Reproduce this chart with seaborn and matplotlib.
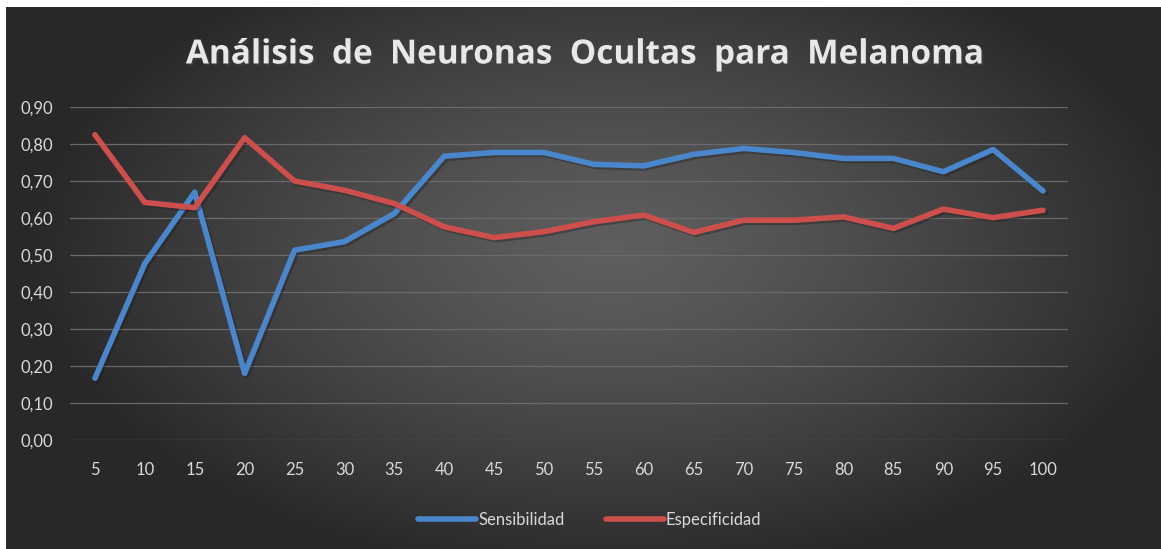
import numpy as np
import pandas as pd
import matplotlib.pyplot as plt
import matplotlib.patheffects as pe
import seaborn as sns

# Data
neuronas = [5, 10, 15, 20, 25, 30, 35, 40, 45, 50,
            55, 60, 65, 70, 75, 80, 85, 90, 95, 100]
sensibilidad = [0.167, 0.477, 0.670, 0.180, 0.513, 0.536, 0.612, 0.767, 0.777, 0.777,
                0.745, 0.741, 0.772, 0.788, 0.777, 0.761, 0.761, 0.725, 0.785, 0.673]
especificidad = [0.825, 0.642, 0.628, 0.817, 0.700, 0.675, 0.639, 0.576, 0.547, 0.563,
                 0.590, 0.608, 0.561, 0.594, 0.594, 0.603, 0.572, 0.624, 0.601, 0.621]
y_ticks = [0.0, 0.1, 0.2, 0.3, 0.4, 0.5, 0.6, 0.7, 0.8, 0.9]

df = pd.DataFrame({
    'Neuronas': [str(n) for n in neuronas] * 2,
    'Valor': sensibilidad + especificidad,
    'Serie': ['Sensibilidad'] * len(neuronas) + ['Especificidad'] * len(neuronas),
})

sns.set_theme(style='white')
plt.rcParams['font.family'] = ['Lato', 'DejaVu Sans']

W, H = 1161, 549
fig = plt.figure(figsize=(W / 100, H / 100), dpi=100)
fig.patch.set_facecolor('white')

# dark radial-gradient chart area
x0, y0, x1, y1 = 6, 7, 1161, 549
bg = fig.add_axes([x0 / W, 1 - y1 / H, (x1 - x0) / W, (y1 - y0) / H])
gx, gy = np.meshgrid(np.linspace(-1, 1, 600), np.linspace(-1, 1, 300))
r = np.clip(np.sqrt(((gx - 0.05) / 1.0) ** 2 + ((gy + 0.1) / 1.2) ** 2), 0, 1)
shade = 0.37 - 0.21 * r ** 1.3
bg.imshow(np.dstack([shade] * 3), aspect='auto', extent=[0, 1, 0, 1])
bg.set_axis_off()

ax = fig.add_axes([70 / W, 1 - 440 / H, (1068 - 70) / W, (440 - 107) / H])
ax.patch.set_alpha(0)

palette = {'Sensibilidad': '#4a86cc', 'Especificidad': '#cc4f4c'}
sns.lineplot(data=df, x='Neuronas', y='Valor', hue='Serie', palette=palette,
             linewidth=4, ax=ax, legend=False,
             path_effects=[pe.SimpleLineShadow(offset=(1.5, -1.5), alpha=0.35), pe.Normal()])

ax.set_xlim(-0.5, len(neuronas) - 0.5)
ax.set_ylim(0, 0.9)
ax.set_yticks(y_ticks)
ax.set_yticklabels([f'{v:.2f}'.replace('.', ',') for v in y_ticks])
ax.yaxis.grid(True, color='#6a6a6a', linewidth=0.9)
ax.xaxis.grid(False)
for s in ax.spines.values():
    s.set_visible(False)
ax.tick_params(axis='both', length=0, labelsize=12, labelcolor='#d9d9d9')
ax.tick_params(axis='y', pad=12)
ax.tick_params(axis='x', pad=16)
ax.set_xlabel('')
ax.set_ylabel('')

fig.text(0.504, 1 - 55 / H, 'Análisis  de  Neuronas  Ocultas  para  Melanoma',
         ha='center', va='center', fontsize=24, fontweight='bold', color='#e8e8e8',
         family=['Open Sans', 'DejaVu Sans'],
         path_effects=[pe.withSimplePatchShadow(offset=(1.5, -1.5), alpha=0.5)])

handles = [plt.Line2D([], [], color=palette[k], linewidth=4, solid_capstyle='round')
           for k in ['Sensibilidad', 'Especificidad']]
leg = fig.legend(handles, ['Sensibilidad', 'Especificidad'], loc='center',
                 bbox_to_anchor=(0.508, 1 - 520 / H), ncol=2, frameon=False,
                 fontsize=12, handlelength=3.5, handletextpad=0.1, columnspacing=2.5)
for t in leg.get_texts():
    t.set_color('#d9d9d9')

fig.savefig('out.png', dpi=100)
